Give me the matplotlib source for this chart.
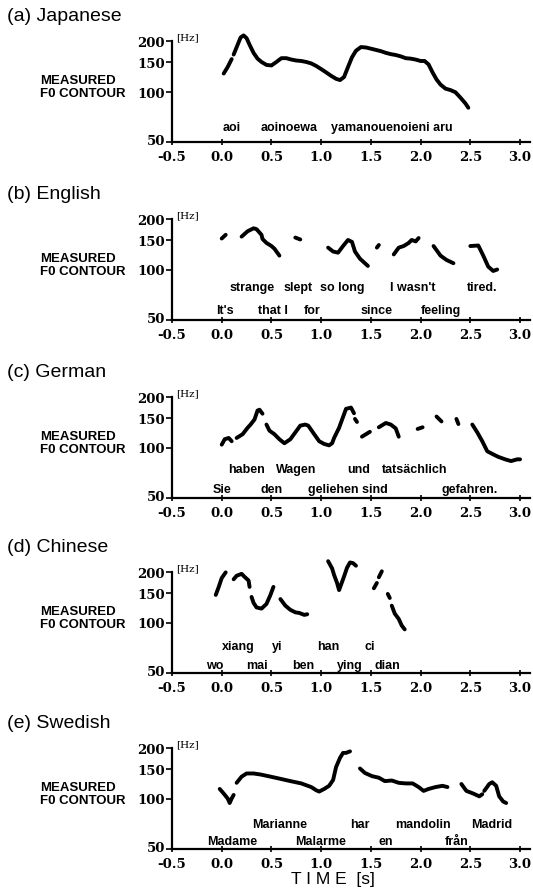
import numpy as np
import matplotlib
matplotlib.use("Agg")
import matplotlib.pyplot as plt
import matplotlib.transforms as mtransforms

nan = np.nan

# ---------------- data ----------------
panel_titles = ["(a) Japanese", "(b) English", "(c) German", "(d) Chinese", "(e) Swedish"]

x_ticks = [-0.5, 0.0, 0.5, 1.0, 1.5, 2.0, 2.5, 3.0]
x_ticklabels = ["-0.5", "0.0", "0.5", "1.0", "1.5", "2.0", "2.5", "3.0"]
y_ticks = [50, 100, 150, 200]
y_ticklabels = ["50", "100", "150", "200"]

jp_t = [0.02, 0.06, 0.10, nan, 0.12, 0.16, 0.19, 0.22, 0.25, 0.28, 0.32, 0.36, 0.40, 0.45, 0.50,
        0.55, 0.60, 0.65, 0.70, 0.75, 0.80, 0.85, 0.90, 0.95, 1.00, 1.05, 1.10, 1.15, 1.19,
        1.23, 1.27, 1.31, 1.35, 1.40, 1.45, 1.50, 1.55, 1.60, 1.65, 1.70, 1.75, 1.80, 1.85,
        1.90, 1.95, 2.00, 2.04, 2.08, 2.12, 2.16, 2.20, 2.25, 2.30, 2.35, 2.40, 2.45, 2.48]
jp_f0 = [128, 140, 156, nan, 166, 190, 210, 216, 208, 190, 170, 157, 150, 144, 143,
         150, 158, 158, 155, 153, 152, 150, 147, 142, 136, 130, 124, 119, 117,
         122, 140, 160, 175, 184, 183, 180, 177, 174, 170, 167, 165, 162, 158,
         157, 155, 152, 152, 145, 130, 118, 110, 104, 102, 99, 92, 85, 80]

en_t = [0.00, 0.04, nan,
        0.20, 0.26, 0.32, 0.35, 0.40, 0.41, 0.45, 0.50, 0.53, 0.58, nan,
        0.74, 0.79, nan,
        1.07, 1.12, 1.17, 1.22, 1.27, 1.31, 1.34, 1.39, 1.44, 1.47, nan,
        1.56, 1.58, nan,
        1.73, 1.78, 1.83, 1.88, 1.91, 1.95, 1.98, nan,
        2.13, 2.20, 2.26, 2.33, nan,
        2.50, 2.58, 2.63, 2.68, 2.73, 2.77]
en_f0 = [153, 161, nan,
         157, 169, 176, 174, 161, 152, 144, 138, 133, 121, nan,
         155, 151, nan,
         135, 128, 126, 138, 150, 146, 128, 116, 109, 105, nan,
         135, 140, nan,
         123, 135, 138, 144, 150, 147, 154, nan,
         138, 121, 114, 109, nan,
         138, 139, 121, 104, 98, 100]

de_t = [0.00, 0.03, 0.07, 0.10, nan,
        0.15, 0.21, 0.26, 0.29, 0.33, 0.36, 0.38, 0.41, nan,
        0.45, 0.48, 0.53, 0.58, 0.63, 0.69, 0.74, 0.79, 0.84, 0.87, 0.93, 0.98, 1.03, 1.08, 1.11,
        1.13, 1.18, 1.22, 1.25, 1.30, 1.33, nan,
        1.34, 1.36, nan,
        1.41, 1.46, 1.49, nan,
        1.58, 1.65, 1.70, 1.75, 1.78, nan,
        1.97, 2.02, nan,
        2.16, 2.21, nan,
        2.36, 2.38, nan,
        2.52, 2.57, 2.62, 2.67, 2.73, 2.78, 2.85, 2.91, 2.97, 3.00]
de_f0 = [104, 112, 114, 109, nan,
         114, 120, 131, 137, 147, 166, 168, 159, nan,
         137, 126, 120, 112, 106, 112, 123, 135, 137, 135, 120, 109, 105, 103, 106,
         114, 131, 152, 170, 173, 160, nan,
         148, 142, nan,
         116, 121, 124, nan,
         132, 140, 137, 130, 116, nan,
         129, 132, nan,
         153, 143, nan,
         148, 138, nan,
         137, 123, 109, 95, 91, 88, 85, 83, 85, 85]

zh_t = [-0.06, -0.03, 0.00, 0.04, nan,
        0.12, 0.15, 0.20, 0.23, 0.27, 0.28, nan,
        0.30, 0.32, 0.35, 0.40, 0.45, 0.49, 0.52, nan,
        0.59, 0.64, 0.69, 0.74, 0.78, 0.83, 0.86, nan,
        1.07, 1.11, 1.13, 1.16, 1.18, 1.20, 1.23, 1.26, 1.29, 1.32, 1.35, nan,
        1.53, 1.56, nan, 1.58, 1.61, nan,
        1.67, 1.69, nan, 1.71, 1.74, 1.78, 1.81, 1.84]
zh_f0 = [146, 163, 184, 199, nan,
         181, 190, 195, 187, 178, 163, nan,
         142, 131, 123, 121, 129, 146, 163, nan,
         138, 126, 119, 115, 114, 111, 112, nan,
         232, 210, 192, 172, 156, 168, 188, 212, 228, 226, 218, nan,
         160, 172, nan, 186, 202, nan,
         148, 140, nan, 126, 113, 105, 96, 91]

sv_t = [-0.02, 0.02, 0.06, 0.08, 0.10, 0.12, nan,
        0.15, 0.20, 0.25, 0.32, 0.39, 0.49, 0.59, 0.69, 0.80, 0.90, 0.95, 0.98, 1.03, 1.08,
        1.12, 1.15, 1.19, 1.22, 1.25, 1.29, nan,
        1.39, 1.44, 1.51, 1.58, 1.64, 1.71, 1.78, 1.85, 1.92, 1.98, 2.03, 2.08, 2.15, 2.22, 2.27, nan,
        2.41, 2.46, 2.53, 2.59, 2.62, nan,
        2.64, 2.69, 2.72, 2.76, 2.79, 2.83, 2.86]
sv_f0 = [114, 107, 100, 94, 100, 105, nan,
         124, 135, 141, 141, 139, 135, 131, 127, 123, 117, 112, 110, 114, 119,
         129, 154, 175, 187, 187, 191, nan,
         151, 142, 136, 133, 127, 128, 124, 123, 123, 117, 111, 114, 117, 119, 117, nan,
         122, 111, 107, 103, 106, nan,
         111, 122, 125, 119, 103, 96, 94]

# words: (text, time) per row; row heights in axes fraction
jp_upper = [("aoi", 0.10), ("aoinoewa", 0.68), ("yamanouenoieni aru", 1.71)]
jp_lower = []
en_upper = [("strange", 0.31), ("slept", 0.77), ("so long", 1.21), ("I wasn't", 1.92), ("tired.", 2.62)]
en_lower = [("It's", 0.03), ("that I", 0.51), ("for", 0.91), ("since", 1.56), ("feeling", 2.20)]
de_upper = [("haben", 0.25), ("Wagen", 0.75), ("und", 1.38), ("tatsächlich", 1.94)]
de_lower = [("Sie", 0.00), ("den", 0.50), ("geliehen sind", 1.27), ("gefahren.", 2.49)]
zh_upper = [("xiang", 0.17), ("yi", 0.56), ("han", 1.07), ("ci", 1.49)]
zh_lower = [("wo", -0.07), ("mai", 0.35), ("ben", 0.82), ("ying", 1.29), ("dian", 1.67)]
sv_upper = [("Marianne", 0.58), ("har", 1.39), ("mandolin", 2.02), ("Madrid", 2.71)]
sv_lower = [("Madame", 0.11), ("Malarme", 0.99), ("en", 1.65), ("från", 2.36)]

series_t = [jp_t, en_t, de_t, zh_t, sv_t]
series_f0 = [jp_f0, en_f0, de_f0, zh_f0, sv_f0]
upper_words = [jp_upper, en_upper, de_upper, zh_upper, sv_upper]
lower_words = [jp_lower, en_lower, de_lower, zh_lower, sv_lower]

# ---------------- layout ----------------
W, H = 533, 895
fig = plt.figure(figsize=(W / 100, H / 100), dpi=100)

ax_left_px, ax_right_px = 172, 530
bottoms_px = [143, 321, 499, 674, 850]
ax_h_px = 101
upper_row = [0.15, 0.33, 0.29, 0.27, 0.25]
lower_row = [0.06, 0.10, 0.09, 0.08, 0.08]

tick_font = dict(family="DejaVu Serif", weight="bold", size=9.5)
word_font = dict(family="Liberation Sans", weight="bold", size=9)

for i in range(5):
    b = bottoms_px[i]
    ax = fig.add_axes([ax_left_px / W, 1 - b / H, (ax_right_px - ax_left_px) / W, ax_h_px / H])
    ax.set_yscale("log")
    ax.set_xlim(-0.5, 3.1)
    ax.set_ylim(50, 200)
    for s in ("top", "right"):
        ax.spines[s].set_visible(False)
    for s in ("left", "bottom"):
        ax.spines[s].set_linewidth(1.6)
    ax.set_xticks(x_ticks)
    ax.set_xticklabels(x_ticklabels, fontdict=tick_font)
    ax.yaxis.set_minor_locator(matplotlib.ticker.NullLocator())
    ax.set_yticks(y_ticks)
    ax.set_yticklabels(y_ticklabels, fontdict=tick_font)
    ax.tick_params(axis="x", direction="inout", length=5, width=1.2, pad=3.5)
    ax.tick_params(axis="y", direction="out", length=4, width=1.2, pad=1)
    # lift the bottom y label slightly so it sits above the x labels
    lab50 = ax.get_yticklabels()[0]
    lab50.set_transform(lab50.get_transform() +
                        mtransforms.ScaledTranslation(0, 2 / 72, fig.dpi_scale_trans))

    ax.plot(series_t[i], series_f0[i], color="black", lw=2.8,
            solid_capstyle="round", solid_joinstyle="round", clip_on=False)

    tr = mtransforms.blended_transform_factory(ax.transData, ax.transAxes)
    for w, t in upper_words[i]:
        ax.text(t, upper_row[i], w, transform=tr, ha="center", va="center", **word_font)
    for w, t in lower_words[i]:
        ax.text(t, lower_row[i], w, transform=tr, ha="center", va="center", **word_font)

    ax.text(0.012, 1.0, "[Hz]", transform=ax.transAxes, ha="left", va="bottom",
            family="DejaVu Serif", size=7.5)

    top_px = b - ax_h_px
    fig.text(7 / W, 1 - (top_px - 34) / H, panel_titles[i], ha="left", va="top",
             family="Liberation Sans", size=14)
    fig.text(40 / W, 1 - (top_px + 0.45 * ax_h_px) / H, "MEASURED\nF0 CONTOUR",
             ha="left", va="center", family="Liberation Sans", weight="bold",
             size=9.5, linespacing=1.15)

fig.text(333 / W, 1 - 880 / H, "T I M E  [s]", ha="center", va="center",
         family="Liberation Sans", size=12.5)

fig.savefig("out.png", dpi=100)
